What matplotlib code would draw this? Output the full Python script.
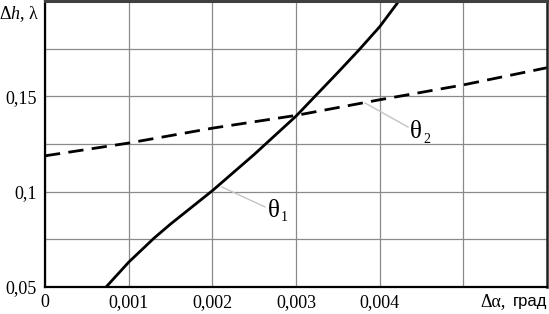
import matplotlib
matplotlib.use("Agg")
import matplotlib.pyplot as plt

plt.rcParams['font.family'] = ['Liberation Serif', 'DejaVu Serif']
plt.rcParams['mathtext.fontset'] = 'custom'
plt.rcParams['mathtext.rm'] = 'Liberation Serif'
plt.rcParams['mathtext.it'] = 'Liberation Serif:italic'

# curve theta_1 (solid)
t1_x = [0.00073, 0.001, 0.0013, 0.0015, 0.002, 0.0025, 0.003, 0.0035, 0.00375, 0.004, 0.00423]
t1_y = [0.05, 0.063, 0.0755, 0.083, 0.1005, 0.1195, 0.1396, 0.1625, 0.1742, 0.1865, 0.2]

# curve theta_2 (dashed)
t2_x = [0, 0.001, 0.002, 0.003, 0.004, 0.005, 0.006]
t2_y = [0.1188, 0.1255, 0.1333, 0.1400, 0.1482, 0.1560, 0.1650]

x_ticks = [0, 0.001, 0.002, 0.003, 0.004, 0.005]
x_labels = ["0", "0,001", "0,002", "0,003", "0,004", ""]
y_ticks = [0.05, 0.1, 0.15]
y_labels = ["0,05", "0,1", "0,15"]
y_minor = [0.075, 0.125, 0.175]

fig = plt.figure(figsize=(5.49, 3.14), dpi=100)
ax = fig.add_axes([45 / 549, 27 / 314, 502 / 549, 286 / 314])

ax.plot(t1_x, t1_y, color='black', lw=2.0, solid_capstyle='butt')
ax.plot(t2_x, t2_y, color='black', lw=2.0, dashes=(5.5, 3))

ax.set_xlim(0, 0.006)
ax.set_ylim(0.05, 0.2)
ax.set_xticks(x_ticks)
ax.set_xticklabels(x_labels, fontsize=13)
ax.set_yticks(y_ticks)
ax.set_yticklabels(y_labels, fontsize=13)
ax.set_yticks(y_minor, minor=True)
ax.tick_params(which='both', length=0)
ax.tick_params(axis='x', pad=5)
ax.tick_params(axis='y', pad=6)
ax.grid(True, which='both', color='#8a8a8a', lw=0.9)
ax.set_axisbelow(True)

for side in ['left', 'bottom']:
    ax.spines[side].set_linewidth(1.6)
    ax.spines[side].set_color('black')
ax.spines['top'].set_linewidth(2.2)
ax.spines['top'].set_color('#404040')
ax.spines['right'].set_linewidth(1.8)
ax.spines['right'].set_color('#202020')

# axis captions
ax.text(-0.012, 0.955, r'Δ$\mathit{h}$, λ', transform=ax.transAxes,
        ha='right', va='center', fontsize=13, clip_on=False)
ax.text(0.918, -0.052, 'Δα,', transform=ax.transAxes,
        ha='right', va='center', fontsize=13, clip_on=False)
ax.text(1.0, -0.052, 'град', transform=ax.transAxes, family='Liberation Sans',
        ha='right', va='center', fontsize=12, clip_on=False)

# leader lines and labels
lead = '#c4c4c4'
ax.plot([0.002116, 0.002629], [0.1024, 0.092], color=lead, lw=1.0)
ax.plot([0.003825, 0.004339], [0.1465, 0.1339], color=lead, lw=1.0)
ax.text(0.002665, 0.0899, 'θ', fontsize=18, ha='left', va='center')
ax.text(0.00282, 0.0862, '1', fontsize=10, ha='left', va='center')
ax.text(0.004363, 0.1313, 'θ', fontsize=18, ha='left', va='center')
ax.text(0.004518, 0.1276, '2', fontsize=10, ha='left', va='center')

fig.savefig('out.png', dpi=100)
